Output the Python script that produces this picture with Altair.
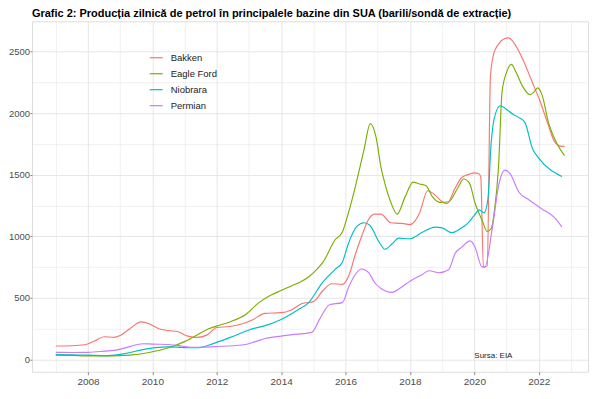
import altair as alt
import pandas as pd

# ---- data ----
bakken_t = [2007.0, 2007.5, 2007.9, 2008.2, 2008.5, 2008.8, 2009.0, 2009.3, 2009.65, 2009.9,
            2010.2, 2010.5, 2010.8, 2011.1, 2011.4, 2011.7, 2012.0, 2012.4, 2012.8, 2013.1,
            2013.5, 2014.0, 2014.3, 2014.65, 2015.0, 2015.3, 2015.57, 2015.9, 2016.1, 2016.3,
            2016.5, 2016.7, 2016.9, 2017.1, 2017.4, 2017.75, 2018.0, 2018.3, 2018.55, 2018.8,
            2019.0, 2019.15, 2019.4, 2019.6, 2019.85, 2020.0, 2020.15, 2020.2, 2020.28, 2020.4,
            2020.5, 2020.6, 2020.75, 2020.9, 2021.07, 2021.2, 2021.5, 2021.8, 2022.05, 2022.3,
            2022.5, 2022.72, 2022.8]
bakken_v = [110, 112, 120, 150, 185, 180, 195, 250, 305, 290,
            250, 235, 225, 190, 180, 200, 260, 268, 290, 320,
            375, 380, 400, 455, 470, 560, 615, 610, 680, 850,
            1000, 1130, 1180, 1180, 1110, 1105, 1095, 1190, 1370, 1330,
            1280, 1265, 1390, 1475, 1505, 1515, 1505, 1480, 750, 760,
            2300, 2480, 2560, 2600, 2610, 2580, 2440, 2250, 2090, 1900,
            1765, 1730, 1730]

eagle_t = [2007.0, 2007.5, 2008.0, 2008.5, 2009.0, 2009.3, 2009.9, 2010.5, 2011.0, 2011.4,
           2011.75, 2012.1, 2012.4, 2012.9, 2013.3, 2013.7, 2014.0, 2014.3, 2014.6, 2014.85,
           2015.1, 2015.3, 2015.67, 2015.9, 2016.1, 2016.3, 2016.57, 2016.77, 2016.95, 2017.1,
           2017.22, 2017.4, 2017.6, 2017.85, 2018.1, 2018.3, 2018.5, 2018.7, 2018.95, 2019.2,
           2019.5, 2019.67, 2019.85, 2020.02, 2020.24, 2020.4, 2020.52, 2020.62, 2020.75, 2020.86,
           2021.0, 2021.15, 2021.3, 2021.48, 2021.73, 2021.85, 2021.97, 2022.1, 2022.3, 2022.55,
           2022.8]
eagle_v = [35, 33, 30, 30, 32, 35, 57, 95, 145, 200,
           250, 280, 305, 365, 460, 525, 560, 595, 630, 670,
           730, 790, 970, 1035, 1200, 1400, 1700, 1915, 1800, 1560,
           1430, 1280, 1180, 1320, 1440, 1425, 1410, 1320, 1275, 1280,
           1400, 1465, 1430, 1270, 1130, 1040, 1060, 1200, 1560, 2170,
           2330, 2395, 2330, 2225, 2150, 2170, 2205, 2150, 1925, 1760,
           1655]

niobrara_t = [2007.0, 2007.5, 2008.0, 2008.65, 2009.15, 2009.7, 2010.1, 2010.5, 2011.0, 2011.45,
              2011.95, 2012.47, 2013.0, 2013.6, 2014.0, 2014.5, 2014.85, 2015.27, 2015.67, 2015.9,
              2016.1, 2016.35, 2016.57, 2016.75, 2017.05, 2017.22, 2017.45, 2017.65, 2018.0, 2018.37,
              2018.78, 2019.0, 2019.3, 2019.6, 2019.75, 2020.0, 2020.15, 2020.3, 2020.42, 2020.52,
              2020.62, 2020.8, 2020.95, 2021.2, 2021.38, 2021.57, 2021.8, 2022.0, 2022.72]
niobrara_v = [40, 38, 35, 32, 48, 80, 97, 103, 97, 97,
              135, 185, 240, 283, 325, 400, 460, 620, 730, 790,
              950, 1080, 1110, 1090, 950, 895, 940, 985, 980, 1030,
              1075, 1068, 1030, 1068, 1095, 1170, 1215, 1190, 1300, 1750,
              1960, 2060, 2040, 1990, 1965, 1925, 1715, 1635, 1485]

permian_t = [2007.0, 2007.5, 2008.0, 2008.5, 2008.95, 2009.3, 2009.7, 2010.0, 2010.5, 2010.9,
             2011.2, 2011.6, 2011.95, 2012.5, 2012.9, 2013.2, 2013.5, 2014.0, 2014.35, 2014.7,
             2014.95, 2015.2, 2015.5, 2015.9, 2016.1, 2016.3, 2016.5, 2016.72, 2016.9, 2017.07,
             2017.45, 2017.7, 2017.97, 2018.37, 2018.6, 2018.9, 2019.2, 2019.4, 2019.6, 2019.87,
             2020.02, 2020.24, 2020.33, 2020.55, 2020.77, 2020.95, 2021.1, 2021.38, 2021.7, 2022.1,
             2022.5, 2022.72]
permian_v = [58, 57, 58, 68, 80, 105, 128, 125, 122, 110,
             98, 100, 105, 112, 122, 145, 170, 190, 202, 210,
             220, 330, 445, 462, 590, 690, 735, 705, 625, 583,
             545, 580, 630, 688, 720, 704, 728, 860, 910, 963,
             914, 752, 752, 1052, 1432, 1537, 1513, 1360, 1294, 1222,
             1150, 1076]

series = {
    "Bakken": (bakken_t, bakken_v),
    "Eagle Ford": (eagle_t, eagle_v),
    "Niobrara": (niobrara_t, niobrara_v),
    "Permian": (permian_t, permian_v),
}
names = list(series.keys())
colors = ["#F8766D", "#7CAE00", "#00BFC4", "#C77CFF"]

x_grid = list(range(2007, 2024))
y_grid = list(range(0, 2751, 250))

note_x = [2020.0]
note_y = [27]
note_text = ["Sursa: EIA"]

rows = []
for name, (ts, vs) in series.items():
    for t, v in zip(ts, vs):
        rows.append({"an": t, "valoare": v, "bazin": name})
df = pd.DataFrame(rows)
note_df = pd.DataFrame({"an": note_x, "valoare": note_y, "t": note_text})

FONT = "Liberation Sans"

xscale = alt.Scale(domain=[2006.26, 2023.53], nice=False, zero=False)
yscale = alt.Scale(domain=[-99, 2745], nice=False, zero=False)

x_axis = alt.Axis(values=x_grid, format="d",
                  labelExpr="datum.value % 2 == 0 ? datum.label : ''",
                  labelOverlap=False,
                  tickColor={"condition": {"test": "datum.value % 2 == 1", "value": "transparent"},
                             "value": "#8a8a8a"},
                  gridWidth={"condition": {"test": "datum.value % 2 == 1", "value": 0.5},
                             "value": 0.9},
                  gridColor="#E3E3E3", domain=False, tickSize=3,
                  labelFont=FONT, labelFontSize=10, labelColor="#4D4D4D",
                  labelPadding=2, labelFlush=False)
y_axis = alt.Axis(values=y_grid, format="d",
                  labelExpr="datum.value % 500 == 0 ? datum.label : ''",
                  labelOverlap=False,
                  tickColor={"condition": {"test": "datum.value % 500 != 0", "value": "transparent"},
                             "value": "#8a8a8a"},
                  gridWidth={"condition": {"test": "datum.value % 500 != 0", "value": 0.5},
                             "value": 0.9},
                  gridColor="#E3E3E3", domain=False, tickSize=2,
                  labelFont=FONT, labelFontSize=9.5, labelColor="#4D4D4D",
                  labelPadding=0.5, labelFlush=False)

X = alt.X("an:Q", scale=xscale, title=None, axis=x_axis)
Y = alt.Y("valoare:Q", scale=yscale, title=None, axis=y_axis)

lines = alt.Chart(df).mark_line(strokeWidth=1.15, interpolate="monotone").encode(
    x=X, y=Y,
    color=alt.Color("bazin:N", scale=alt.Scale(domain=names, range=colors),
                    legend=alt.Legend(title=None, orient="none", legendX=117, legendY=29,
                                      symbolType="stroke", symbolSize=169, symbolStrokeWidth=1.2,
                                      labelFont=FONT, labelFontSize=9.5, labelColor="#222222",
                                      labelOffset=7, rowPadding=4, padding=0)),
)

note = alt.Chart(note_df).mark_text(align="left", baseline="middle", font=FONT,
                                    fontSize=8, color="#222222").encode(
    x=X, y=Y, text="t:N")

chart = alt.layer(lines, note).properties(
    width=557, height=351,
    title=alt.TitleParams(
        "Grafic 2: Producția zilnică de petrol în principalele bazine din SUA (barili/sondă de extracție)",
        anchor="start", frame="group", font=FONT, fontSize=11, fontWeight="bold",
        color="#000000", offset=2),
    padding={"left": 0, "top": 0, "right": 4, "bottom": 4},
).configure_view(stroke="#B3B3B3", strokeWidth=1).configure(background="white")

chart.save("out.html", embed_options={"renderer": "svg", "actions": False})
